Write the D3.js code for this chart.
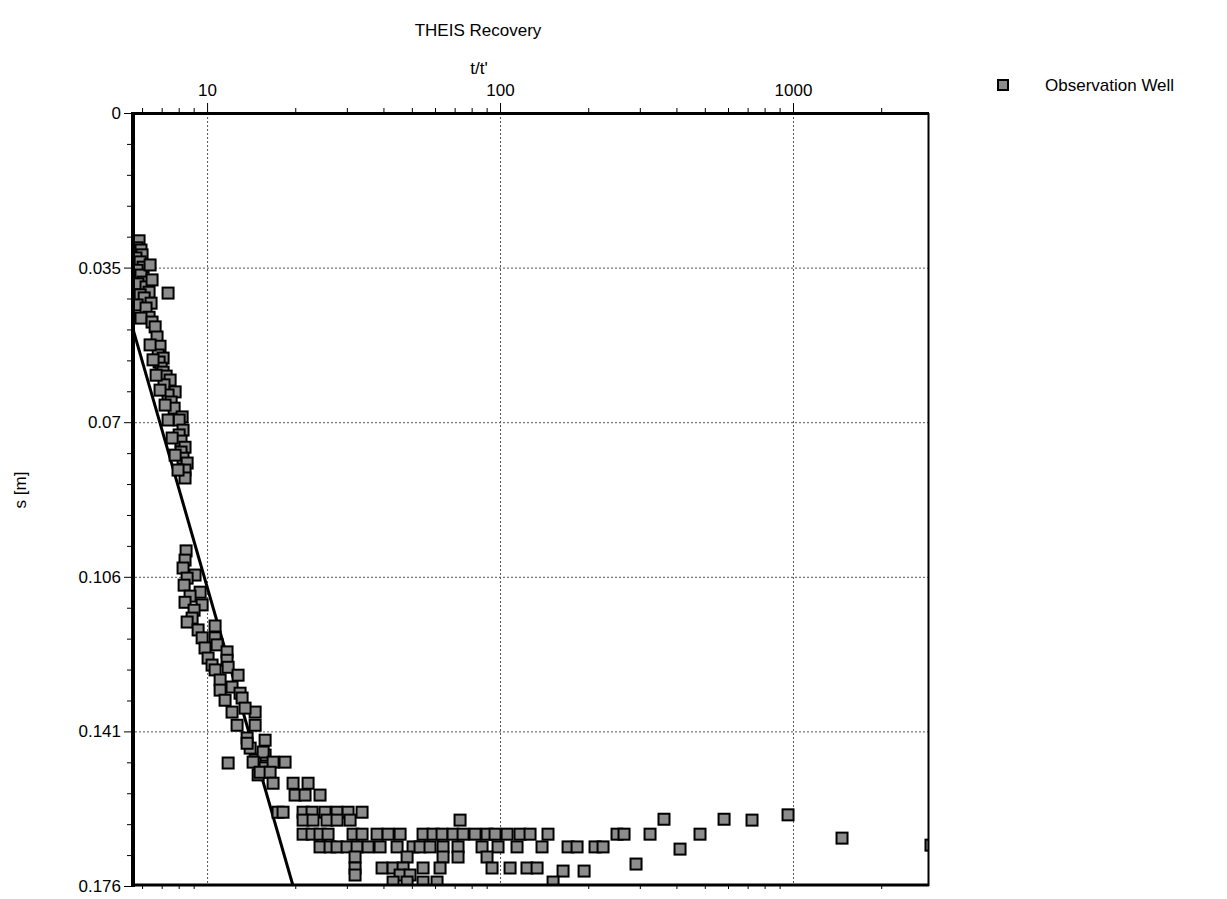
<!DOCTYPE html>
<html><head><meta charset="utf-8">
<script src="https://cdn.jsdelivr.net/npm/d3@7"></script>
<style>
html,body{margin:0;padding:0;background:#fff;}
svg{display:block;font-family:"Liberation Sans",Arial,sans-serif;}
</style></head><body>
<svg id="chart" width="1227" height="899"></svg>
<script>
// ---------- texts ----------
const chartTitle = "THEIS Recovery";
const xTitle = "t/t'";
const yTitle = "s [m]";
const seriesName = "Observation Well";

// ---------- axes ----------
const xDomain = [5.5, 2912];
const yDomain = [0, 0.176];
const xMajorTicks = [10, 100, 1000];
const xTickLabels = ["10", "100", "1000"];
const yMajorTicks = [0, 0.0352, 0.0704, 0.1056, 0.1408, 0.176];
const yTickLabels = ["0", "0.035", "0.07", "0.106", "0.141", "0.176"];

// ---------- observations: t/t' and residual drawdown s [m] ----------
// upper band (late recovery, small t/t')
const tUpper = [5.86,5.77,5.95,6.00,5.72,5.91,6.05,5.77,5.95,6.05,5.81,6.19,6.34,5.91,6.10,6.44,5.77,6.19,6.34,5.95,6.49,6.65,6.75,6.91,6.81,7.08,6.86,6.97,7.08,7.25,7.48,7.13,7.78,7.36,7.54,7.72,8.22,8.03,8.28,8.03,8.15,8.41,8.15,8.28,8.55,8.41,8.41,7.36,
  6.39,6.54,6.70,6.91,7.19,7.36,7.60,7.78,7.96,6.49,6.39];
const sUpper = [0.0291,0.0307,0.0312,0.0323,0.0330,0.0339,0.0351,0.0358,0.0369,0.0385,0.0389,0.0396,0.0408,0.0414,0.0421,0.0433,0.0437,0.0444,0.0465,0.0467,0.0476,0.0487,0.0510,0.0531,0.0551,0.0558,0.0567,0.0581,0.0590,0.0599,0.0608,0.0619,0.0635,0.0642,0.0658,0.0672,0.0692,0.0699,0.0722,0.0733,0.0747,0.0761,0.0772,0.0786,0.0797,0.0813,0.0831,0.0410,
  0.0528,0.0562,0.0597,0.0631,0.0665,0.0699,0.0740,0.0779,0.0813,0.0380,0.0346];
// middle band
const tMiddle = [8.48,8.41,8.28,9.10,8.55,8.35,9.47,8.75,8.41,9.62,9.03,8.89,8.55,10.65,9.32,9.62,10.65,10.82,9.84,10.08,11.70,11.70,10.40,11.80,10.65,12.76,11.08,12.17,11.08,12.96,13.17,11.52,12.17,14.59,13.48,12.66,14.59,13.70,15.78,14.03,15.78,11.80,14.59,15.78,14.94];
const sMiddle = [0.0997,0.1018,0.1036,0.1052,0.1059,0.1075,0.1091,0.1100,0.1114,0.1120,0.1132,0.1150,0.1159,0.1168,0.1177,0.1195,0.1195,0.1211,0.1218,0.1241,0.1227,0.1246,0.1257,0.1262,0.1268,0.1280,0.1291,0.1307,0.1314,0.1321,0.1332,0.1337,0.1364,0.1364,0.1355,0.1394,0.1394,0.1423,0.1428,0.1446,0.1462,0.1480,0.1473,0.1491,0.1507];
// lower bend
const tBend = [13.70,15.54,14.36,16.80,18.46,15.17,16.41,16.80,19.66,22.12,19.97,21.60,24.30,17.47,18.17,21.27,22.82,25.27,27.78,30.29,33.81,21.27,23.00,25.67,27.78,30.77,73.03];
const sBend = [0.1435,0.1455,0.1478,0.1478,0.1478,0.1501,0.1501,0.1526,0.1526,0.1526,0.1553,0.1553,0.1553,0.1592,0.1592,0.1592,0.1592,0.1592,0.1592,0.1592,0.1592,0.1610,0.1610,0.1610,0.1610,0.1610,0.1610];
// early recovery (large t/t'), grouped by drawdown level
const sLevels = [0.1642, 0.1671, 0.1694, 0.1719, 0.1726, 0.1735, 0.1751];
const tByLevel = [
  [21.27,22.82,24.30,25.88,31.50,33.81,38.04,41.48,45.59,54.61,59.06,63.40,69.12,74.78,82.17,90.29,96.16,105.7,117.0,126.6,145.8,250.8,265.0,325.1,481.5],
  [24.30,26.29,27.78,30.05,32.51,35.44,38.95,44.52,50.48,53.33,57.68,63.90,71.89,86.82,98.44,114.3,139.1,170.7,183.2,211.0,224.7],
  [32.00,48.17,63.90,71.89,90.29],
  [32.00,39.57,43.14,46.68,54.61,62.41,93.91,108.2,123.6,133.8],
  [164.1,193.6],
  [32.00,45.59,49.29],
  [43.14,48.17,54.61,60.95,151.7]
];
const tSparse = [291.2, 362.8, 411.5, 581.7, 724.6, 961.7, 1470, 2958];
const sSparse = [0.1710, 0.1608, 0.1676, 0.1608, 0.1610, 0.1598, 0.1651, 0.1667];

// fitted straight line (Theis recovery)
const fitT = [5.5, 19.66];
const fitS = [0.0476, 0.176];

// ---------- build point table ----------
const points = [];
tUpper.forEach((t,i)=>points.push({t, s:sUpper[i]}));
tMiddle.forEach((t,i)=>points.push({t, s:sMiddle[i]}));
tBend.forEach((t,i)=>points.push({t, s:sBend[i]}));
sLevels.forEach((s,j)=>tByLevel[j].forEach(t=>points.push({t, s})));
tSparse.forEach((t,i)=>points.push({t, s:sSparse[i]}));

// ---------- layout ----------
const svg = d3.select("#chart");
const margin = {top:113, left:131, right:298, bottom:13};
const W = 1227 - margin.left - margin.right;
const H = 899 - margin.top - margin.bottom;
const x = d3.scaleLog().domain(xDomain).range([0, W]);
const y = d3.scaleLinear().domain(yDomain).range([0, H]);
const g = svg.append("g").attr("transform", `translate(${margin.left},${margin.top})`);

const FS = 17;
const FONT = "Liberation Sans, Arial, sans-serif";

// grid
g.append("g")
  .call(d3.axisBottom(x).tickValues(xMajorTicks).tickSize(H).tickFormat(""))
  .call(s=>s.select(".domain").remove())
  .call(s=>s.selectAll("line").attr("stroke","#555").attr("stroke-dasharray","2,2"));
g.append("g")
  .call(d3.axisRight(y).tickValues(yMajorTicks.slice(1,-1)).tickSize(W).tickFormat(""))
  .call(s=>s.select(".domain").remove())
  .call(s=>s.selectAll("line").attr("stroke","#555").attr("stroke-dasharray","2,2"));

// minor ticks
const xMinor = x.ticks().filter(v=>!xMajorTicks.includes(v));
const yMinor = d3.range(0, 25).map(i=>yDomain[1]*i/25).filter((v,i)=>i%5!==0);

g.append("g").call(d3.axisTop(x).tickValues(xMinor).tickSize(5).tickFormat(""))
  .call(s=>s.select(".domain").remove());
g.append("g").attr("transform",`translate(0,${H})`)
  .call(d3.axisBottom(x).tickValues(xMinor).tickSize(3).tickFormat(""))
  .call(s=>s.select(".domain").remove());
g.append("g").call(d3.axisLeft(y).tickValues(yMinor).tickSize(4).tickFormat(""))
  .call(s=>s.select(".domain").remove());

// major axes
g.append("g")
  .call(d3.axisTop(x).tickValues(xMajorTicks).tickSize(10).tickPadding(7)
    .tickFormat((d,i)=>xTickLabels[i]))
  .call(s=>s.select(".domain").remove())
  .call(s=>s.selectAll("text").attr("font-size",FS).attr("fill","#000").attr("font-family",FONT));
g.append("g")
  .call(d3.axisLeft(y).tickValues(yMajorTicks).tickSize(7).tickPadding(3)
    .tickFormat((d,i)=>yTickLabels[i]))
  .call(s=>s.select(".domain").remove())
  .call(s=>s.selectAll("text").attr("font-size",FS).attr("fill","#000").attr("font-family",FONT));

// clip
svg.append("defs").append("clipPath").attr("id","plotclip")
  .append("rect").attr("x",0).attr("y",0).attr("width",W).attr("height",H);
const plot = g.append("g").attr("clip-path","url(#plotclip)");

// fitted line
plot.append("path")
  .datum(fitT.map((t,i)=>({t, s:fitS[i]})))
  .attr("fill","none").attr("stroke","#000").attr("stroke-width",3)
  .attr("d", d3.line().x(d=>x(d.t)).y(d=>y(d.s)));

// markers
const M = 11;
plot.selectAll("rect.pt").data(points).join("rect")
  .attr("class","pt")
  .attr("x", d=>x(d.t)-M/2).attr("y", d=>y(d.s)-M/2)
  .attr("width", M).attr("height", M)
  .attr("fill","#8c8c8c").attr("stroke","#000").attr("stroke-width",2);

// frame
g.append("line").attr("x1",2).attr("x2",2).attr("y1",-1).attr("y2",H+1).attr("stroke","#000").attr("stroke-width",4);
g.append("line").attr("x1",0).attr("x2",W).attr("y1",0.5).attr("y2",0.5).attr("stroke","#000").attr("stroke-width",3);
g.append("line").attr("x1",0).attr("x2",W).attr("y1",H-1).attr("y2",H-1).attr("stroke","#000").attr("stroke-width",3);
g.append("line").attr("x1",W-0.5).attr("x2",W-0.5).attr("y1",0).attr("y2",H).attr("stroke","#000").attr("stroke-width",2);

// titles
svg.append("text").attr("x",478).attr("y",36).attr("text-anchor","middle")
  .attr("font-size",FS).text(chartTitle);
svg.append("text").attr("x",479).attr("y",74).attr("text-anchor","middle")
  .attr("font-size",FS).text(xTitle);
svg.append("text").attr("transform","translate(26,490) rotate(-90)").attr("text-anchor","middle")
  .attr("font-size",FS).text(yTitle);

// legend
svg.append("rect").attr("x",998).attr("y",80).attr("width",10).attr("height",10)
  .attr("fill","#8c8c8c").attr("stroke","#000").attr("stroke-width",2);
svg.append("text").attr("x",1045).attr("y",91).attr("font-size",FS).text(seriesName);
</script>
</body></html>
